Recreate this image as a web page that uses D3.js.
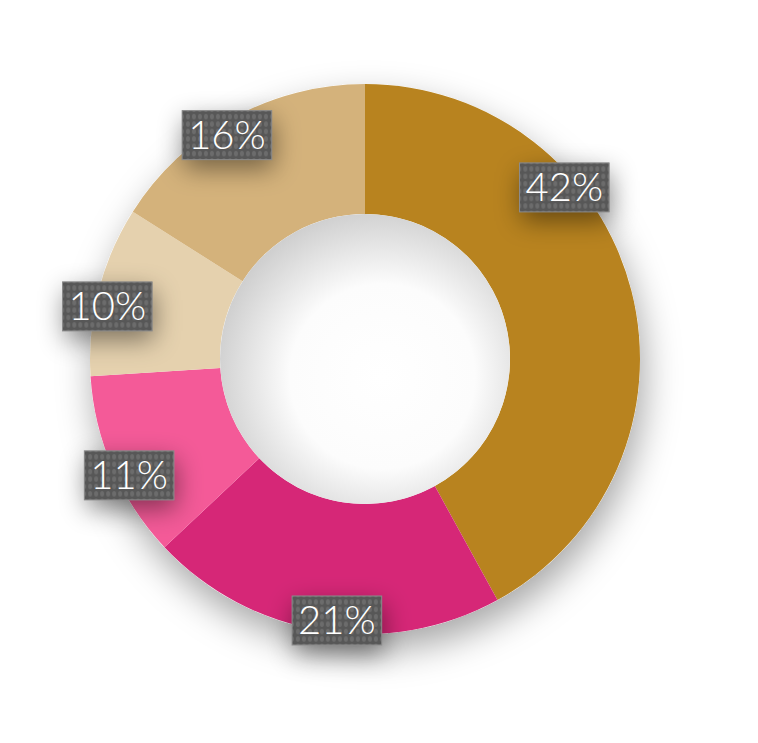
<!DOCTYPE html>
<html>
<head>
<meta charset="utf-8">
<script src="https://cdn.jsdelivr.net/npm/d3@7"></script>
<style>
  body { margin:0; background:#ffffff; }
  svg { display:block; }
</style>
</head>
<body>
<div id="chart"></div>
<script>
var labels = ["42%", "21%", "11%", "10%", "16%"];
var values = [42, 21, 11, 10, 16];
var colours = ["#b8831f", "#d62777", "#f45a98", "#e5d1ae", "#d4b27b"];

var width = 758, height = 743;
var cx = 365, cy = 359;
var outerR = 275, innerR = 145, labelR = 263;

var svg = d3.select("#chart")
  .append("svg")
  .attr("width", width)
  .attr("height", height);

var defs = svg.append("defs");

// soft shadow under the ring
var ringShadow = defs.append("filter")
  .attr("id", "ringShadow")
  .attr("x", "-30%").attr("y", "-30%")
  .attr("width", "160%").attr("height", "160%");
ringShadow.append("feDropShadow")
  .attr("dx", 4).attr("dy", 16)
  .attr("stdDeviation", 18)
  .attr("flood-color", "#000")
  .attr("flood-opacity", 0.35);

// shadow under the label boxes
var boxShadow = defs.append("filter")
  .attr("id", "boxShadow")
  .attr("x", "-100%").attr("y", "-100%")
  .attr("width", "300%").attr("height", "300%");
boxShadow.append("feDropShadow")
  .attr("dx", 2).attr("dy", 9)
  .attr("stdDeviation", 13)
  .attr("flood-color", "#000")
  .attr("flood-opacity", 0.45);

// dotted texture of the label boxes
var dots = defs.append("pattern")
  .attr("id", "dots")
  .attr("patternUnits", "userSpaceOnUse")
  .attr("width", 6).attr("height", 7.4);
dots.append("rect").attr("width", 6).attr("height", 7.4).attr("fill", "#575757");
dots.append("ellipse")
  .attr("cx", 3).attr("cy", 3.7)
  .attr("rx", 2).attr("ry", 2.7)
  .attr("fill", "#6c6c6c");

// inner hole shading
var hole = defs.append("radialGradient")
  .attr("id", "hole")
  .attr("cx", "56%").attr("cy", "56%").attr("r", "58%");
hole.append("stop").attr("offset", "0%").attr("stop-color", "#ffffff");
hole.append("stop").attr("offset", "55%").attr("stop-color", "#fcfcfc");
hole.append("stop").attr("offset", "100%").attr("stop-color", "#cfcfcf");

var pie = d3.pie().sort(null).value(function(d) { return d; });
var arcs = pie(values);

var arc = d3.arc().innerRadius(innerR).outerRadius(outerR);

var g = svg.append("g")
  .attr("transform", "translate(" + cx + "," + cy + ")");

// shadow base
g.append("circle")
  .attr("r", outerR)
  .attr("fill", "#ffffff")
  .attr("filter", "url(#ringShadow)");

g.selectAll(".slice")
  .data(arcs)
  .enter()
  .append("path")
  .attr("class", "slice")
  .attr("d", arc)
  .attr("fill", function(d, i) { return colours[i]; });

g.append("circle")
  .attr("r", innerR)
  .attr("fill", "url(#hole)");

// labels
var entries = g.selectAll(".labelEntry")
  .data(arcs)
  .enter()
  .append("g")
  .attr("class", "labelEntry")
  .attr("transform", function(d) {
    // big slices get their label nearer the start
    var a = Math.min((d.startAngle + d.endAngle) / 2 - 0.05, d.startAngle + 0.86);
    var x = labelR * Math.sin(a);
    var y = -labelR * Math.cos(a);
    return "translate(" + x + "," + y + ")";
  });

entries.each(function(d, i) {
  var e = d3.select(this);
  var shadowRect = e.append("rect").attr("filter", "url(#boxShadow)").attr("fill", "#444");
  var box = e.append("rect").attr("fill", "url(#dots)").attr("stroke", "#8c8c8c").attr("stroke-width", 1);
  var t = e.append("text")
    .text(labels[i])
    .attr("text-anchor", "middle")
    .attr("y", 14)
    .style("font-family", "Lato, 'Open Sans', sans-serif")
    .style("font-weight", 300)
    .style("font-size", "40px")
    .style("fill", "#ffffff");
  var w = t.node().getComputedTextLength() + 12;
  var h = 49;
  shadowRect.attr("x", -w / 2).attr("y", -h / 2).attr("width", w).attr("height", h);
  box.attr("x", -w / 2).attr("y", -h / 2).attr("width", w).attr("height", h);
});
</script>
</body>
</html>
